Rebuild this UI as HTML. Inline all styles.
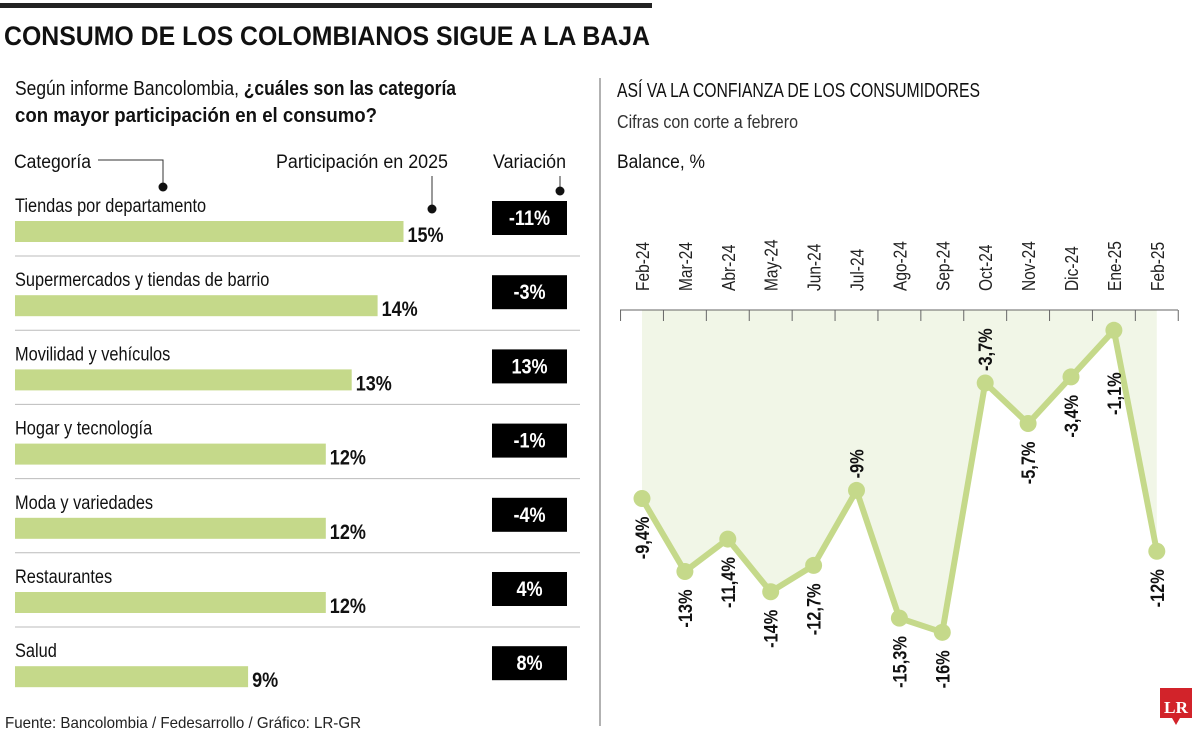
<!DOCTYPE html>
<html><head><meta charset="utf-8"><style>
html,body{margin:0;padding:0;background:#fff;}
svg{display:block;font-family:"Liberation Sans Narrow","Liberation Sans",sans-serif;}
</style></head><body>
<svg id="root" width="1200" height="736" viewBox="0 0 1200 736" xmlns="http://www.w3.org/2000/svg">
<rect x="0" y="3" width="652" height="5" fill="#222"/>
<text x="4" y="45" font-size="27" font-weight="bold" fill="#111" textLength="646" lengthAdjust="spacingAndGlyphs">CONSUMO DE LOS COLOMBIANOS SIGUE A LA BAJA</text>
<text x="15" y="95" font-size="20" fill="#111" textLength="441" lengthAdjust="spacingAndGlyphs">Según informe Bancolombia, <tspan font-weight="bold">¿cuáles son las categoría</tspan></text>
<text x="15" y="122" font-size="20" font-weight="bold" fill="#111" textLength="362" lengthAdjust="spacingAndGlyphs">con mayor participación en el consumo?</text>
<text x="14" y="168" font-size="19" fill="#111" textLength="77" lengthAdjust="spacingAndGlyphs">Categoría</text>
<polyline points="98,160 163,160 163,186" fill="none" stroke="#333" stroke-width="1"/>
<circle cx="163" cy="187" r="4.5" fill="#111"/>
<text x="276" y="168" font-size="19" fill="#111" textLength="172" lengthAdjust="spacingAndGlyphs">Participación en 2025</text>
<line x1="432" y1="176" x2="432" y2="208" stroke="#333" stroke-width="1"/>
<circle cx="432" cy="209" r="4.5" fill="#111"/>
<text x="493" y="168" font-size="19" fill="#111" textLength="73" lengthAdjust="spacingAndGlyphs">Variación</text>
<line x1="560" y1="176" x2="560" y2="190" stroke="#333" stroke-width="1"/>
<circle cx="560" cy="191" r="4.5" fill="#111"/>
<g id="bars"></g>
<line x1="600" y1="78" x2="600" y2="726" stroke="#999" stroke-width="1.5"/>
<text x="617" y="97" font-size="20" fill="#111" textLength="363" lengthAdjust="spacingAndGlyphs">ASÍ VA LA CONFIANZA DE LOS CONSUMIDORES</text>
<text x="617" y="128" font-size="18" fill="#333" textLength="181" lengthAdjust="spacingAndGlyphs">Cifras con corte a febrero</text>
<text x="617" y="168" font-size="19" fill="#111" textLength="88" lengthAdjust="spacingAndGlyphs">Balance, %</text>
<g id="line"></g>
<text x="5" y="728" font-size="16" fill="#222" textLength="356" lengthAdjust="spacingAndGlyphs">Fuente: Bancolombia / Fedesarrollo / Gráfico: LR-GR</text>
<g>
<path d="M1160,688 h32 v30 h-12 l-4,7 l-4,-7 h-12 z" fill="#d2232a"/>
<text x="1176" y="713" font-size="17" font-weight="bold" fill="#fff" text-anchor="middle" font-family="Liberation Serif,serif" textLength="24" lengthAdjust="spacingAndGlyphs">LR</text>
</g>
</svg>
<script>
const categories = ["Tiendas por departamento","Supermercados y tiendas de barrio","Movilidad y vehículos","Hogar y tecnología","Moda y variedades","Restaurantes","Salud"];
const shares = [15,14,13,12,12,12,9];
const variations = [-11,-3,13,-1,-4,4,8];

const months = ["Feb-24","Mar-24","Abr-24","May-24","Jun-24","Jul-24","Ago-24","Sep-24","Oct-24","Nov-24","Dic-24","Ene-25","Feb-25"];
const balance = [-9.4,-13,-11.4,-14,-12.7,-9,-15.3,-16,-3.7,-5.7,-3.4,-1.1,-12];
const balanceLabels = ["-9,4%","-13%","-11,4%","-14%","-12,7%","-9%","-15,3%","-16%","-3,7%","-5,7%","-3,4%","-1,1%","-12%"];
const labelAbove = [false,false,false,false,false,true,false,false,true,false,false,false,false];

const NS = "http://www.w3.org/2000/svg";
function mk(tag, attrs, parent){const e=document.createElementNS(NS,tag);for(const k in attrs)e.setAttribute(k,attrs[k]);parent.appendChild(e);return e;}

// bar chart
const bx = v => 15 + v*25.9;
const rowY = i => 221 + i*74.2;
const bg = document.getElementById('bars');
categories.forEach((c,i)=>{
  const y=rowY(i);
  const t=mk('text',{x:15,y:y-9,'font-size':19,fill:'#111'},bg); t.textContent=c;
  
  
  const r=mk('rect',{x:15,y:y,width:bx(shares[i])-15,height:21,fill:'#c5d98a'},bg);
  
  
  const v=mk('text',{x:bx(shares[i])+4,y:y+21,'font-size':21,'font-weight':'bold',fill:'#111'},bg); v.textContent=shares[i]+'%';
  
  
  const b=mk('rect',{x:492,y:y-20,width:75,height:34,fill:'#000'},bg);
  
  
  const vt=mk('text',{x:529.5,y:y+4,'font-size':21,'font-weight':'bold',fill:'#fff','text-anchor':'middle'},bg); vt.textContent=variations[i]+'%';
  
  
  if(i<categories.length-1){
    const l=mk('line',{x1:15,x2:580,y1:y+35,y2:y+35,stroke:'#bbb','stroke-width':1},bg);
    
    
  }
});

// line chart
const lx = i => 642 + i*42.9;
const ly = v => 308 - v*20.27;
const lg = document.getElementById('line');
let area = `M${lx(0)},310 `;
balance.forEach((v,i)=>{area+=`L${lx(i)},${ly(v)} `;});
area += `L${lx(balance.length-1)},310 Z`;
const ap=mk('path',{d:area,fill:'#f1f6e7'},lg);


const ax=mk('line',{x1:620,x2:1178,y1:310,y2:310,stroke:'#666','stroke-width':1},lg);


for(let i=0;i<=months.length;i++){
  const tx=lx(i)-21.45;
  const tk=mk('line',{x1:tx,x2:tx,y1:310,y2:321,stroke:'#666','stroke-width':1},lg);
  
  
}
months.forEach((m,i)=>{
  const t=mk('text',{x:0,y:0,'font-size':18,fill:'#222','text-anchor':'start',transform:`translate(${lx(i)+7},291) rotate(-90)`},lg);
  t.textContent=m;
  
  
});
const pts=balance.map((v,i)=>lx(i)+','+ly(v)).join(' ');
const pl=mk('polyline',{points:pts,fill:'none',stroke:'#c5d98a','stroke-width':6,'stroke-linejoin':'round'},lg);


balance.forEach((v,i)=>{
  const c=mk('circle',{cx:lx(i),cy:ly(v),r:8.5,fill:'#c5d98a'},lg);
  
  
});
balance.forEach((v,i)=>{
  const above=labelAbove[i];
  const extra = (i===11) ? 24 : 0;
  const y= above ? ly(v)-12 : ly(v)+18+extra;
  const t=mk('text',{x:0,y:0,'font-size':19,'font-weight':'bold',fill:'#111','text-anchor':above?'start':'end',transform:`translate(${lx(i)+7},${y}) rotate(-90)`},lg);
  t.textContent=balanceLabels[i];
  
  
});
// condense text lacking explicit lengths
document.querySelectorAll('#bars text, #line text').forEach(t=>{
  const w=t.getComputedTextLength();
  t.setAttribute('textLength',(w*0.86).toFixed(1));
  t.setAttribute('lengthAdjust','spacingAndGlyphs');
});
</script>
</body></html>
